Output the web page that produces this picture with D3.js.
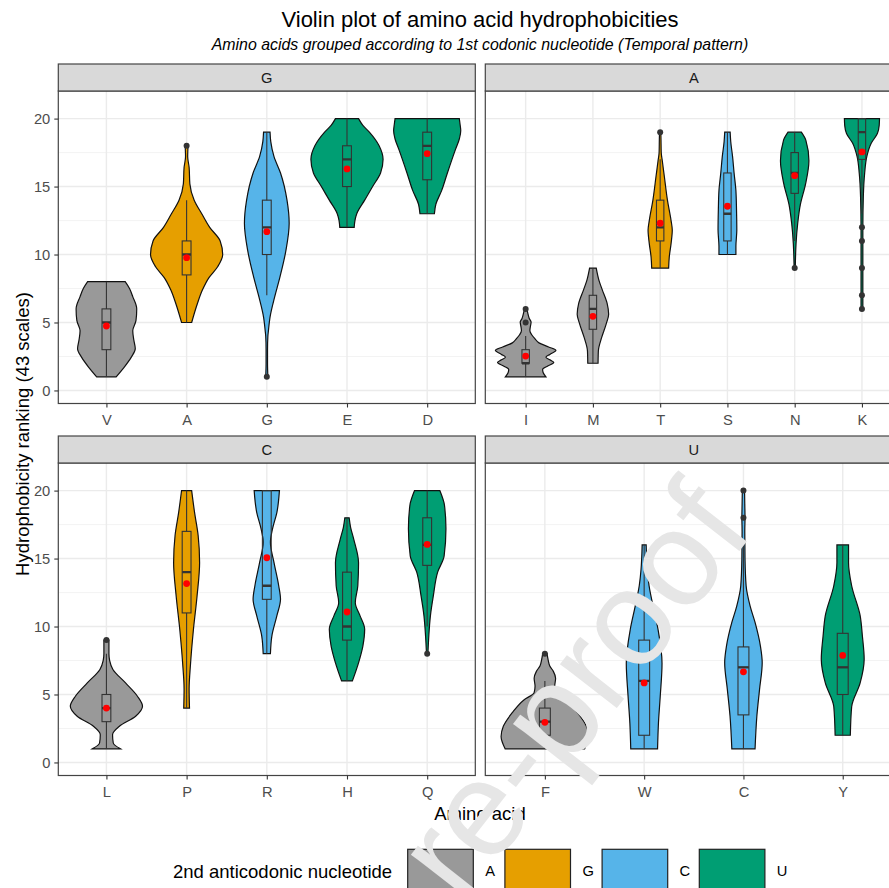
<!DOCTYPE html>
<html lang="en">
<head>
<meta charset="UTF-8">
<title>Violin plot of amino acid hydrophobicities</title>
<script src="https://d3js.org/d3.v7.min.js"></script>
<style>
  body { margin: 0; background: #fff; }
  svg { display: block; font-family: "Liberation Sans", Arial, sans-serif; }
</style>
</head>
<body>
<svg id="chart"></svg>
<script>
// facets = 1st codonic nucleotide, fill = 2nd anticodonic nucleotide
const facetNames = ["G", "A", "C", "U"];
const facetAcids = [
    ["V", "A", "G", "E", "D"],
    ["I", "M", "T", "S", "N", "K"],
    ["L", "P", "R", "H", "Q"],
    ["F", "W", "C", "Y"]
];
const facetSecond = [
    ["A", "G", "C", "U", "U"],
    ["A", "A", "G", "C", "U", "U"],
    ["A", "G", "C", "U", "U"],
    ["A", "C", "C", "U"]
];
const nucleotides = ["A", "G", "C", "U"];
const yTicks = [0, 5, 10, 15, 20];
const yMinor = [2.5, 7.5, 12.5, 17.5];

// box plot stats, same order as facetAcids.flat()
const whiskerLow  = [1, 5, 7, 12, 13,   1, 2, 9, 10, 11, 13,   1, 4, 8, 6, 10,   1, 1, 1, 2];
const lowerQuart  = [3, 8.5, 10, 15, 15.5,   2, 4.5, 11, 11, 14.5, 17,   3, 11, 12, 9, 14.5,   2, 2, 3.5, 5];
const medians     = [5, 10, 12, 17, 18,   2, 6, 12, 13, 16, 19,   4, 14, 13, 10, 16,   3, 6, 7, 7];
const upperQuart  = [6, 11, 14, 18, 19,   3, 7, 14, 16, 17.5, 20,   5, 17, 20, 14, 18,   4, 9, 8.5, 9.5];
const whiskerHigh = [8, 14, 19, 20, 20,   4, 9, 17, 19, 19, 20,   8, 20, 20, 18, 20,   6, 16, 16, 16];
const means       = [4.74, 9.77, 11.68, 16.3, 17.42,   2.53, 5.45, 12.3, 13.55, 15.8, 17.55,   4.0, 13.16, 15.06, 11.07, 16.04,   2.95, 5.85, 6.67, 7.87];
const outliers    = [[], [18], [1], [], [],   [5, 6], [], [19], [], [9], [12, 11, 9, 7, 6],   [9], [], [], [], [8],   [8], [], [18, 20], []];

// violin outlines: [ranking, relative density]
const densV = [[1,.27],[1.7,.49],[2.45,.69],[3.07,.80],[3.7,.76],[4.4,.73],[5.15,.82],[6,.84],[6.9,.73],[7.5,.64],[8,.52]];
const densA = [[5,.14],[6.4,.30],[7.4,.44],[8.3,.62],[9.1,.86],[10,1],[11,.93],[12,.64],[13,.42],[14,.21],[15.2,.09],[16.4,.07],[17.2,.03],[18,.04]];
const densG = [[1,.03],[2,.02],[3,.02],[4,.03],[4.4,.045],[5.4,.09],[6.9,.22],[8.3,.36],[10.3,.53],[12.3,.62],[14,.56],[16,.38],[17.2,.2],[18.3,.11],[19,.09]];
const densE = [[12,.2],[12.5,.22],[13,.27],[14,.49],[15,.71],[16,.93],[17,1],[18,.89],[19,.62],[19.5,.44],[20,.32]];
const densD = [[13,.2],[13.7,.24],[14.7,.4],[16,.56],[17.7,.78],[18.5,.89],[19.1,.93],[19.6,.91],[20,.89]];

const densI = [[1,.67],[1.3,.58],[1.55,.56],[1.8,.73],[2.05,.93],[2.25,.8],[2.45,.67],[2.65,.8],[2.95,1],[3.2,.76],[3.5,.44],[3.8,.31],[4.1,.2],[4.4,.14],[4.75,.16],[5.03,.18],[5.3,.12],[5.6,.08],[6,.04]];
const densM = [[2,.17],[2.9,.18],[3.9,.29],[4.9,.44],[5.6,.52],[6.4,.47],[7.4,.31],[8.1,.2],[9,.11]];
const densT = [[9,.28],[9.8,.3],[10.8,.36],[11.8,.4],[12.5,.36],[14,.24],[15.7,.14],[16.9,.07],[17.5,.035],[18.5,.027],[19,.022]];
const densS = [[10,.28],[10.6,.28],[11.8,.31],[13.3,.3],[14.7,.28],[16,.22],[17.2,.17],[18.3,.11],[19,.09]];
const densN = [[9,.02],[10,.03],[10.8,.045],[12.3,.1],[13.7,.19],[15.2,.36],[16.9,.47],[18.4,.37],[19,.22]];
const densK = [[6,.03],[8,.03],[10,.03],[12,.03],[14.2,.045],[16,.09],[17.2,.16],[18.2,.31],[18.9,.51],[19.5,.57],[20,.58]];

const densL = [[1,.39],[1.43,.19],[2.04,.17],[2.66,.36],[3.4,.81],[4.13,1],[4.87,.86],[5.85,.53],[6.84,.18],[7.5,.09],[8,.07],[8.5,.07],[9,.07]];
const densP = [[4,.08],[5.4,.07],[7.3,.11],[9.8,.19],[12.25,.29],[14.7,.36],[16.7,.32],[18.4,.22],[20,.14]];
const densR = [[8,.1],[9.3,.14],[10.8,.28],[12,.38],[13,.33],[14.7,.2],[16.2,.1],[17.2,.16],[18.4,.28],[20,.35]];
const densH = [[6,.15],[7.33,.32],[8.56,.44],[9.8,.49],[10.8,.36],[11.75,.23],[13,.3],[14.7,.32],[16.4,.19],[17.3,.1],[18,.06]];
const densQ = [[8,.02],[9.3,.045],[10.8,.09],[12.25,.17],[14,.29],[15.2,.47],[17.2,.52],[18.9,.48],[20,.35]];

const densF = [[1,.89],[1.9,.98],[2.66,.93],[3.66,.73],[4.6,.47],[5.14,.24],[5.6,.22],[6.2,.24],[6.7,.19],[7.1,.11],[7.6,.07],[8,.05]];
const densW = [[1,.3],[2.9,.32],[4.87,.36],[7.3,.4],[9.8,.31],[11.5,.2],[13,.11],[14.2,.07],[16,.045]];
const densC = [[1,.26],[3.4,.3],[5.36,.36],[7.33,.42],[8.56,.38],[10.3,.26],[11.5,.15],[13,.06],[15,.035],[17,.03],[18,.035],[19,.03],[20,.025]];
const densY = [[2,.17],[4.1,.2],[5.85,.39],[7.6,.48],[9.3,.44],[10.8,.39],[13,.2],[14.7,.13],[16,.13]];

const densities = [densV, densA, densG, densE, densD, densI, densM, densT, densS, densN, densK,
    densL, densP, densR, densH, densQ, densF, densW, densC, densY];

const nucColor = d3.scaleOrdinal()
    .domain(nucleotides)
    .range(["#999999", "#E69F00", "#56B4E9", "#009E73"]);

const width = 889, height = 888;
const panelLeft = [58.3, 485.3];
const panelWidth = 417;
const stripTop = [64, 436];
const stripHeight = 27;
const panelHeight = 312.5;

const svg = d3.select("#chart")
    .attr("width", width)
    .attr("height", height);

svg.append("rect").attr("width", width).attr("height", height).attr("fill", "#fff");

let flatIndex = 0;

facetNames.forEach(function (facet, i) {
    const col = i % 2, row = Math.floor(i / 2);
    const x0 = panelLeft[col];
    const top = stripTop[row] + stripHeight;
    const bottom = top + panelHeight;
    const acids = facetAcids[i];

    const x = d3.scalePoint().domain(acids).range([x0, x0 + panelWidth]).padding(0.6);
    const step = x.step();
    const w = d3.scaleLinear().domain([0, 1]).range([0, 0.45 * step]);
    const y = d3.scaleLinear().domain([-0.96, 22.03]).range([bottom, top]);

    const g = svg.append("g");

    // grid
    g.selectAll(".minor").data(yMinor).enter().append("line")
        .attr("x1", x0).attr("x2", x0 + panelWidth)
        .attr("y1", d => y(d)).attr("y2", d => y(d))
        .attr("stroke", "#f2f2f2").attr("stroke-width", 0.9);
    g.selectAll(".majorY").data(yTicks).enter().append("line")
        .attr("x1", x0).attr("x2", x0 + panelWidth)
        .attr("y1", d => y(d)).attr("y2", d => y(d))
        .attr("stroke", "#ebebeb").attr("stroke-width", 1.4);
    g.selectAll(".majorX").data(acids).enter().append("line")
        .attr("x1", d => x(d)).attr("x2", d => x(d))
        .attr("y1", top).attr("y2", bottom)
        .attr("stroke", "#ebebeb").attr("stroke-width", 1.4);

    const clip = "clip" + i;
    svg.append("clipPath").attr("id", clip).append("rect")
        .attr("x", x0).attr("y", top).attr("width", panelWidth).attr("height", panelHeight);
    const plot = g.append("g").attr("clip-path", `url(#${clip})`);

    acids.forEach(function (acid, j) {
        const k = flatIndex + j;
        const cx = x(acid);
        const fill = nucColor(facetSecond[i][j]);

        const area = d3.area()
            .y(d => y(d[0]))
            .x0(d => cx - w(d[1]))
            .x1(d => cx + w(d[1]))
            .curve(d3.curveMonotoneY);

        plot.append("path")
            .attr("d", area(densities[k]))
            .attr("fill", fill)
            .attr("stroke", "#111")
            .attr("stroke-width", 1.2);

        const bw = 0.055 * step;
        plot.append("line")
            .attr("x1", cx).attr("x2", cx)
            .attr("y1", y(whiskerLow[k])).attr("y2", y(lowerQuart[k]))
            .attr("stroke", "#333").attr("stroke-width", 1.1);
        plot.append("line")
            .attr("x1", cx).attr("x2", cx)
            .attr("y1", y(upperQuart[k])).attr("y2", y(whiskerHigh[k]))
            .attr("stroke", "#333").attr("stroke-width", 1.1);
        plot.append("rect")
            .attr("x", cx - bw).attr("width", 2 * bw)
            .attr("y", y(upperQuart[k]))
            .attr("height", Math.max(0.5, y(lowerQuart[k]) - y(upperQuart[k])))
            .attr("fill", "none")
            .attr("stroke", "#333").attr("stroke-width", 1.1);
        plot.append("line")
            .attr("x1", cx - bw).attr("x2", cx + bw)
            .attr("y1", y(medians[k])).attr("y2", y(medians[k]))
            .attr("stroke", "#333").attr("stroke-width", 2.3);

        plot.selectAll(null).data(outliers[k]).enter().append("circle")
            .attr("cx", cx).attr("cy", d => y(d)).attr("r", 3)
            .attr("fill", "#333");

        plot.append("circle")
            .attr("cx", cx).attr("cy", y(means[k])).attr("r", 3.4)
            .attr("fill", "#ff0000");
    });
    flatIndex += acids.length;

    // panel border
    g.append("rect")
        .attr("x", x0).attr("y", top).attr("width", panelWidth).attr("height", panelHeight)
        .attr("fill", "none").attr("stroke", "#444").attr("stroke-width", 1.2);

    // strip
    g.append("rect")
        .attr("x", x0).attr("y", stripTop[row]).attr("width", panelWidth).attr("height", stripHeight)
        .attr("fill", "#d9d9d9").attr("stroke", "#444").attr("stroke-width", 1.2);
    g.append("text")
        .attr("x", x0 + panelWidth / 2).attr("y", stripTop[row] + stripHeight / 2)
        .attr("dy", "0.36em").attr("text-anchor", "middle")
        .attr("font-size", 14.7).attr("fill", "#1a1a1a")
        .text(facet);

    // axes
    const xAxis = g.append("g")
        .attr("transform", `translate(0,${bottom})`)
        .call(d3.axisBottom(x).tickSize(4).tickPadding(7));
    xAxis.select(".domain").remove();
    xAxis.selectAll("line").attr("stroke", "#333").attr("stroke-width", 1.1);
    xAxis.selectAll("text").attr("font-size", 14.7).attr("fill", "#4d4d4d")
        .attr("font-family", "Liberation Sans, Arial, sans-serif");

    if (col === 0) {
        const yAxis = g.append("g")
            .attr("transform", `translate(${x0},0)`)
            .call(d3.axisLeft(y).tickValues(yTicks).tickSize(4).tickPadding(4));
        yAxis.select(".domain").remove();
        yAxis.selectAll("line").attr("stroke", "#333").attr("stroke-width", 1.1);
        yAxis.selectAll("text").attr("font-size", 14.7).attr("fill", "#4d4d4d")
            .attr("font-family", "Liberation Sans, Arial, sans-serif");
    }
});

// titles
svg.append("text")
    .attr("x", 480).attr("y", 26.5).attr("text-anchor", "middle")
    .attr("font-size", 22).attr("fill", "#000")
    .text("Violin plot of amino acid hydrophobicities");
svg.append("text")
    .attr("x", 480).attr("y", 50).attr("text-anchor", "middle")
    .attr("font-size", 15.9).attr("font-style", "italic").attr("fill", "#000")
    .text("Amino acids grouped according to 1st codonic nucleotide (Temporal pattern)");
svg.append("text")
    .attr("x", 480).attr("y", 820).attr("text-anchor", "middle")
    .attr("font-size", 18.5).attr("fill", "#000")
    .text("Amino acid");
svg.append("text")
    .attr("transform", "translate(28.5,434) rotate(-90)")
    .attr("text-anchor", "middle")
    .attr("font-size", 18.5).attr("fill", "#000")
    .text("Hydrophobicity ranking (43 scales)");

// legend
const legendX = d3.scalePoint().domain(nucleotides).range([407.7, 699.3]);
svg.append("text")
    .attr("x", 173).attr("y", 878)
    .attr("font-size", 18.5).attr("fill", "#000")
    .text("2nd anticodonic nucleotide");
const keys = svg.selectAll(".key").data(nucleotides).enter().append("g");
keys.append("rect")
    .attr("x", d => legendX(d)).attr("y", 849.3)
    .attr("width", 65.6).attr("height", 44)
    .attr("fill", d => nucColor(d))
    .attr("stroke", "#222").attr("stroke-width", 1.2);
keys.append("text")
    .attr("x", d => legendX(d) + 77.5).attr("y", 875.5)
    .attr("font-size", 14.7).attr("fill", "#000")
    .text(d => d);

// journal watermark (the "P" lies below the page edge)
svg.append("text")
    .attr("transform", "translate(462,906) rotate(-52)")
    .attr("font-size", 136).attr("fill", "#e6e6e6")
    .text("re-proof");
</script>
</body>
</html>
